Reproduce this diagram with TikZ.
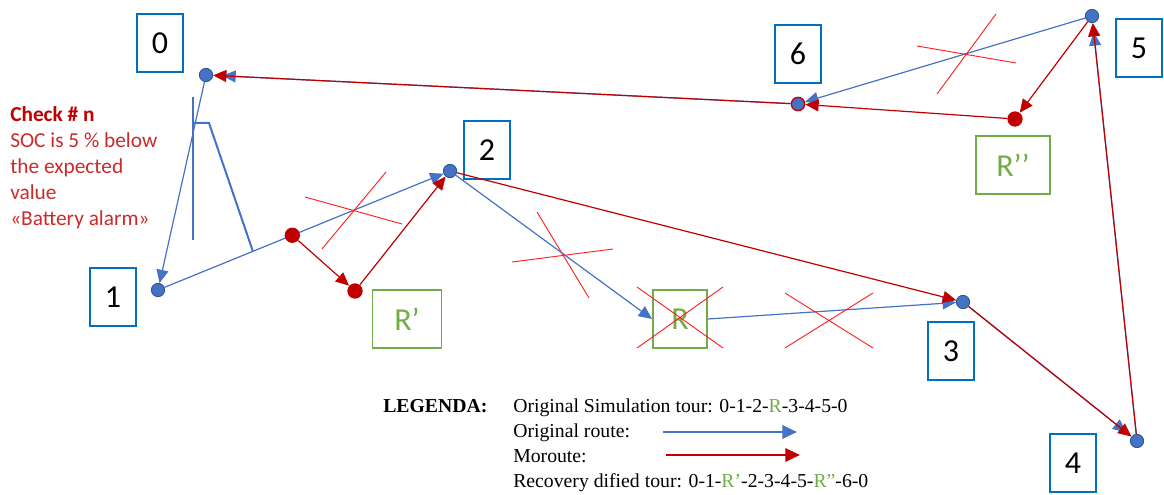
\documentclass[tikz,border=0pt]{standalone}
\usepackage{fontspec}
\setmainfont{Liberation Serif}
\newfontfamily\calibri{Carlito}
\usetikzlibrary{arrows.meta,calc}
\definecolor{nodeblue}{HTML}{0070C0}
\definecolor{routeblue}{HTML}{4472C4}
\definecolor{routered}{HTML}{C00000}
\definecolor{crossred}{HTML}{FF2020}
\definecolor{rgreen}{HTML}{70AD47}
\definecolor{dotedge}{HTML}{2F528F}
\definecolor{notered}{HTML}{CC2A2A}

\begin{document}
\begin{tikzpicture}[x=0.75pt,y=-0.75pt,
  numbox/.style={draw=nodeblue,line width=1.4pt,minimum width=34.5pt,minimum height=43.5pt,
    inner sep=0pt,font=\calibri\fontsize{24}{28}\selectfont},
  rbox/.style={draw=rgreen,line width=1.4pt,minimum height=43.5pt,inner sep=0pt,
    text=rgreen,font=\calibri\fontsize{24}{28}\selectfont},
  bdot/.style={circle,fill=routeblue,draw=dotedge,line width=0.6pt,minimum size=10pt,inner sep=0pt},
  rdot/.style={circle,fill=routered,minimum size=11.5pt,inner sep=0pt},
  blueroute/.style={draw=routeblue,line width=0.9pt,-{Triangle[length=10pt,width=9pt]}},
  redroute/.style={draw=routered,line width=0.9pt,-{Triangle[length=10pt,width=9pt]}},
  crossline/.style={draw=crossred,line width=0.7pt},
  legendtext/.style={anchor=base west,inner sep=0pt,font=\fontsize{14.8}{18}\selectfont}]

\useasboundingbox (0,0) rectangle (1164,495);

% numbered stops
\node[numbox] (b0) at (160,43) {0};
\node[numbox] (b1) at (113,297) {1};
\node[numbox] (b2) at (487,150) {2};
\node[numbox] (b3) at (951,351) {3};
\node[numbox] (b4) at (1073,463) {4};
\node[numbox] (b5) at (1139,48) {5};
\node[numbox] (b6) at (798,54) {6};

% recharge stations
\node[rbox,minimum width=51.75pt] (bRp) at (407,319) {R’};
\node[rbox,minimum width=40.5pt] (bR) at (680,319) {R};
\node[rbox,minimum width=55.5pt] (bRpp) at (1013,165) {R’’};

% stop positions
\node[bdot] (d0) at (206,75) {};
\node[bdot] (d1) at (158,290) {};
\node[bdot] (d2) at (450,171) {};
\node[bdot] (d3) at (963,302) {};
\node[bdot] (d4) at (1137,441) {};
\node[bdot] (d5) at (1092,16) {};
\node[bdot,draw=routered,line width=1pt] (d6) at (798,104) {};
\node[rdot] (rp) at (355,291) {};
\node[rdot] (rpp) at (1015,119) {};

% original route
\draw[blueroute] (d0) -- (d1);
\draw[blueroute] (d1) -- (d2);
\draw[blueroute] (d2) -- (bR.west);
\draw[blueroute] (bR.east) -- (d3);
\draw[blueroute,shorten >=5pt] (d3) -- (d4);
\draw[blueroute,shorten >=7pt] (d4) -- (d5);
\draw[blueroute] (d5) -- (d6);
\draw[blueroute,shorten >=7pt] (d6) -- (d0);

% alarm point on leg 1-2
\node[rdot] (alarm) at ($(d1)!0.46!(d2)$) {};
\coordinate (callout) at ($(d1)!0.325!(d2)$);

% modified route
\draw[redroute] (alarm) -- (rp);
\draw[redroute] (rp) -- (d2);
\draw[redroute] (d2) -- (d3);
\draw[redroute] (d3) -- (d4);
\draw[redroute] (d4) -- (d5);
\draw[redroute] (d5) -- (rpp);
\draw[redroute] (rpp) -- (d6);
\draw[redroute] (d6) -- (d0);

% cancelled legs
\draw[crossline] (305,197) -- (402,224) (322,249) -- (386,172);
\draw[crossline] (512,262) -- (613,249) (537,212) -- (589,298);
\draw[crossline] (637,287) -- (723,348) (637,348) -- (723,287);
\draw[crossline] (785,293) -- (873,348) (785,348) -- (873,293);
\draw[crossline] (917,46) -- (1016,63) (996,14) -- (937,94);

% callout to the alarm note
\draw[routeblue,line width=1.5pt] (193,97) -- (193,240);
\draw[routeblue,line width=1.5pt] (193,123) -- (209,123) -- (callout);

\node[anchor=north west,align=left,inner sep=0pt,text=notered,
  font=\calibri\fontsize{16}{19.5}\selectfont] (note) at (10,106)
  {\textcolor{routered}{\textbf{Check \# n}}\\SOC is 5 \% below\\the expected\\value\\«Battery alarm»};

% legend
\node[legendtext] (legtitle) at (383,412) {\textbf{LEGENDA:}};
\node[legendtext] (leg1) at (513,412) {Original Simulation tour: 0-1-2-\textcolor{rgreen}{R}-3-4-5-0};
\node[legendtext] (leg2) at (513,437) {Original route:};
\node[legendtext] (leg3) at (513,462) {Moroute:};
\node[legendtext] (leg4) at (513,487) {Recovery dified tour: 0-1-\textcolor{rgreen}{R’}-2-3-4-5-\textcolor{rgreen}{R”}-6-0};
\coordinate (lb1) at (663,432);
\coordinate (lb2) at (797,432);
\coordinate (lr1) at (666,455);
\coordinate (lr2) at (800,455);
\draw[draw=routeblue,line width=1.6pt,-{Triangle[length=11pt,width=10pt]}] (lb1) -- (lb2);
\draw[draw=routered,line width=1.6pt,-{Triangle[length=11pt,width=10pt]}] (lr1) -- (lr2);
\end{tikzpicture}
\end{document}
